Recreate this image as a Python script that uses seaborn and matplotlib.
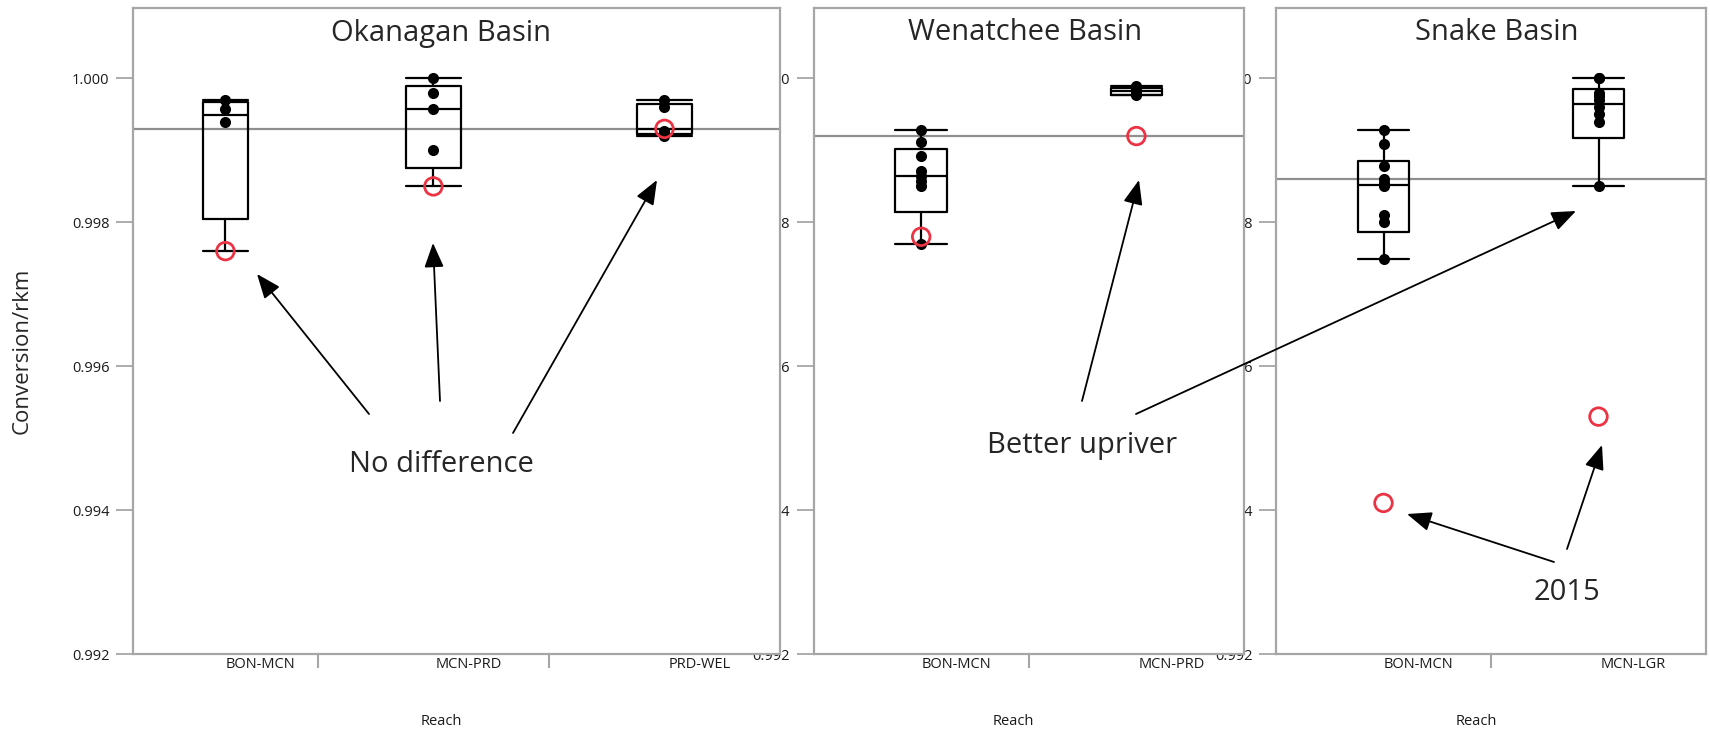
import numpy as np
import pandas as pd
import matplotlib
matplotlib.use("Agg")
import matplotlib.pyplot as plt
import seaborn as sns
from matplotlib.patches import FancyArrowPatch
from matplotlib.transforms import ScaledTranslation
from matplotlib.ticker import FormatStrFormatter

# ---------------- data ----------------
basins = ["Okanagan Basin", "Wenatchee Basin", "Snake Basin"]
okanagan_reaches = ["BON-MCN", "MCN-PRD", "PRD-WEL"]
wenatchee_reaches = ["BON-MCN", "MCN-PRD"]
snake_reaches = ["BON-MCN", "MCN-LGR"]

# yearly conversion/rkm values (other years, black dots)
okanagan_years = [[0.99970, 0.99958, 0.99940],
                  [1.00000, 0.99980, 0.99958, 0.99900],
                  [0.99970, 0.99960, 0.99927, 0.99920]]
wenatchee_years = [[0.99928, 0.99912, 0.99892, 0.99871, 0.99864, 0.99857, 0.99850, 0.99770],
                   [0.99989, 0.99988, 0.99986, 0.99984, 0.99982, 0.99980, 0.99978, 0.99977]]
snake_years = [[0.99928, 0.99909, 0.99878, 0.99860, 0.99855, 0.99850, 0.99810, 0.99800, 0.99749],
               [1.00000, 1.00000, 0.99980, 0.99975, 0.99970, 0.99960, 0.99950, 0.99940, 0.99850]]
# 2015 values (red open circles)
okanagan_2015 = [0.99760, 0.99850, 0.99930]
wenatchee_2015 = [0.99780, 0.99920]
snake_2015 = [0.99410, 0.99530]
# horizontal reference line per basin
basin_reference = [0.99930, 0.99920, 0.99860]
y_ticks = [0.992, 0.994, 0.996, 0.998, 1.000]

# ---------------- style ----------------
sns.set_style("white")
plt.rcParams["font.family"] = ["Open Sans", "DejaVu Sans"]

W, H = 1710, 731
fig = plt.figure(figsize=(W / 100, H / 100), dpi=100)

GRAY = "#a6a6a6"
REFGRAY = "#8f8f8f"
RED = "#ec3344"
TOP_PX, BOT_PX = 8, 654
panel_px = [(133, 780), (813.6, 1244), (1276, 1706)]
title_x_px = [441, 1025, 1497]


def box_stats(vals):
    v = np.sort(np.asarray(vals, dtype=float))
    q1, med, q3 = np.percentile(v, [25, 50, 75], method="weibull")
    iqr = q3 - q1
    lo = v[v >= q1 - 1.5 * iqr].min()
    hi = v[v <= q3 + 1.5 * iqr].max()
    return dict(med=med, q1=q1, q3=q3, whislo=lo, whishi=hi, fliers=[])


panels = [
    (okanagan_reaches, okanagan_years, okanagan_2015),
    (wenatchee_reaches, wenatchee_years, wenatchee_2015),
    (snake_reaches, snake_years, snake_2015),
]

for i, ((reaches, yrs, y15), (l, r)) in enumerate(zip(panels, panel_px)):
    ax = fig.add_axes([l / W, 1 - BOT_PX / H, (r - l) / W, (BOT_PX - TOP_PX) / H])
    ax.set_zorder(3 - i)
    ax.set_facecolor("white")

    counts = np.array([len(a) + 1 for a in yrs])
    edges = np.concatenate([[0], np.cumsum(counts)])
    centers = (edges[:-1] + edges[1:]) / 2
    widths = 0.24 * counts

    ax.axhline(basin_reference[i], color=REFGRAY, lw=1.6, zorder=1)

    stats = [box_stats(list(a) + [b]) for a, b in zip(yrs, y15)]
    lp = dict(color="black", lw=1.6)
    ax.bxp(stats, positions=centers, widths=widths, capwidths=widths,
           showfliers=False, manage_ticks=False,
           boxprops=lp, medianprops=lp, whiskerprops=lp, capprops=lp)

    df = pd.DataFrame({"x": np.repeat(centers, [len(a) for a in yrs]),
                       "y": np.concatenate(yrs)})
    sns.scatterplot(data=df, x="x", y="y", color="black", s=64, linewidth=0,
                    ax=ax, zorder=3, legend=False)
    df15 = pd.DataFrame({"x": centers, "y": y15})
    sns.scatterplot(data=df15, x="x", y="y", color=RED, s=160, ax=ax,
                    zorder=4, legend=False)
    c = ax.collections[-1]
    c.set_facecolor("none")
    c.set_edgecolor(RED)
    c.set_linewidth(2.0)

    ax.set_xlim(0, edges[-1])
    ax.set_ylim(0.992, 1.00098)
    ax.set_yticks(y_ticks)
    ax.yaxis.set_major_formatter(FormatStrFormatter("%.3f"))
    ax.tick_params(axis="y", which="major", left=True, direction="out", length=12,
                   width=1.3, color=GRAY, labelsize=10.5, pad=5, labelcolor="#1a1a1a")

    ax.set_xticks(centers)
    ax.set_xticklabels(reaches)
    ax.set_xticks(edges[1:-1], minor=True)
    ax.tick_params(axis="x", which="major", bottom=True, length=0, pad=2,
                   labelsize=10.5, labelcolor="#1a1a1a")
    ax.tick_params(axis="x", which="minor", bottom=True, direction="out",
                   length=10, width=1.5, color=GRAY)
    for lbl in ax.get_xticklabels():
        lbl.set_transform(lbl.get_transform() + ScaledTranslation(0.35, 0, fig.dpi_scale_trans))

    for sp in ax.spines.values():
        sp.set_visible(True)
        sp.set_color(GRAY)
        sp.set_linewidth(1.6)

    ax.set_ylabel("")
    ax.set_xlabel("Reach", fontsize=10.5, color="#1a1a1a")
    ax.xaxis.set_label_coords(0.5 - 15 / (r - l), -60 / (BOT_PX - TOP_PX))

    ax.text((title_x_px[i] - l) / (r - l), 1 - 25 / (BOT_PX - TOP_PX), basins[i],
            transform=ax.transAxes, ha="center", va="center", fontsize=21)

# y axis label
fig.text(22 / W, 1 - 351 / H, "Conversion/rkm", rotation=90, ha="center",
         va="center", fontsize=16)


def P(x, y):
    return (x / W, 1 - y / H)


labels = [("No difference", 441, 465), ("Better upriver", 1082, 445), ("2015", 1567, 592)]
for t, x, y in labels:
    fig.text(*P(x, y), t, ha="center", va="center", fontsize=21, zorder=10)

arrows = [((369, 414), (257, 274)), ((440, 401), (433, 243)), ((513, 433), (657, 180)),
          ((1082, 401), (1139, 180)), ((1136, 414), (1576, 211)),
          ((1554, 562), (1407, 514)), ((1567, 549), (1602, 445))]
for (a, b) in arrows:
    fig.add_artist(FancyArrowPatch(P(*a), P(*b), transform=fig.transFigure,
                                   arrowstyle="-|>,head_length=0.75,head_width=0.3",
                                   mutation_scale=20, lw=1.3, color="black",
                                   shrinkA=0, shrinkB=0, zorder=10))

fig.savefig("out.png", dpi=100)
